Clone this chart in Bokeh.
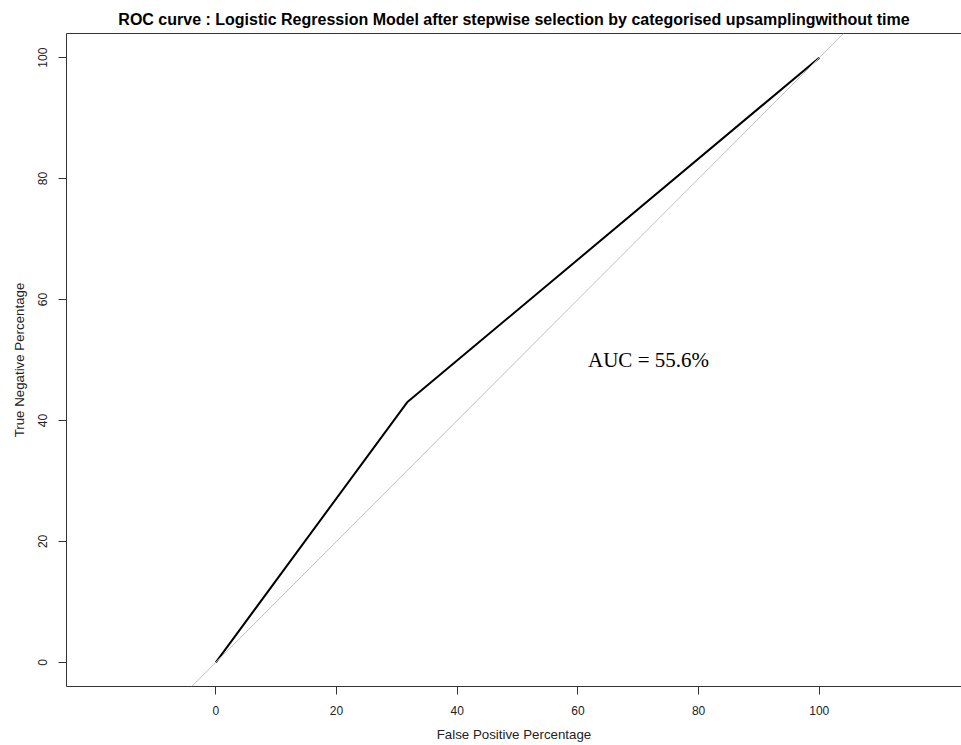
from bokeh.plotting import figure
from bokeh.models import Range1d, FixedTicker, LinearAxis, Slope, Label
from bokeh.embed import file_html
from bokeh.resources import INLINE

# Data
fpr = [0, 31.7, 100]
tpr = [0, 43.0, 100]
ticks = [0, 20, 40, 60, 80, 100]
auc_text = "AUC = 55.6%"
auc_pos = (71.7, 50)
title_text = "ROC curve : Logistic Regression Model after stepwise selection by categorised upsamplingwithout time"

p = figure(width=961, height=745, output_backend="svg", toolbar_location=None,
           x_range=Range1d(-24.75, 123.57), y_range=Range1d(-4.0, 104.0),
           min_border_left=66, min_border_right=0, min_border_top=33, min_border_bottom=59,
           title=title_text)
p.outline_line_color = None
p.xgrid.visible = False
p.ygrid.visible = False
p.background_fill_color = "white"
p.border_fill_color = "white"

p.title.align = "center"
p.title.text_font = "Liberation Sans"
p.title.text_font_style = "bold"
p.title.text_font_size = "16px"
p.title.text_color = "black"
p.title.standoff = 12

axcol = "#333333"
for ax in (p.xaxis[0], p.yaxis[0]):
    ax.ticker = FixedTicker(ticks=ticks)
    ax.minor_tick_line_color = None
    ax.major_tick_in = 0
    ax.major_tick_out = 8
    ax.major_tick_line_color = axcol
    ax.axis_line_color = axcol
    ax.major_label_text_font = "Liberation Sans"
    ax.major_label_text_font_size = "12px"
    ax.major_label_text_color = "#222222"
    ax.major_label_standoff = 11
    ax.axis_label_text_font = "Liberation Sans"
    ax.axis_label_text_font_size = "13.3px"
    ax.axis_label_text_font_style = "normal"
    ax.axis_label_text_color = "#222222"
    ax.axis_label_standoff = 9

p.xaxis.axis_label = "False Positive Percentage"
p.yaxis.axis_label = "True Negative Percentage"
p.yaxis.major_label_orientation = "vertical"

top = LinearAxis(ticker=FixedTicker(ticks=[]), axis_line_color=axcol,
                 major_tick_line_color=None, minor_tick_line_color=None,
                 major_label_text_font_size="0px", major_tick_out=0, minor_tick_out=0,
                 major_label_standoff=0)
p.add_layout(top, "above")

p.add_layout(Slope(gradient=1, y_intercept=0, line_color="#c0c0c0", line_width=1))
p.line(fpr, tpr, line_color="black", line_width=2)

p.add_layout(Label(x=auc_pos[0], y=auc_pos[1], text=auc_text, text_align="center",
                   text_baseline="middle", text_font="Liberation Serif",
                   text_font_size="21px", text_color="black"))

open("out.html", "w").write(file_html(p, INLINE))
